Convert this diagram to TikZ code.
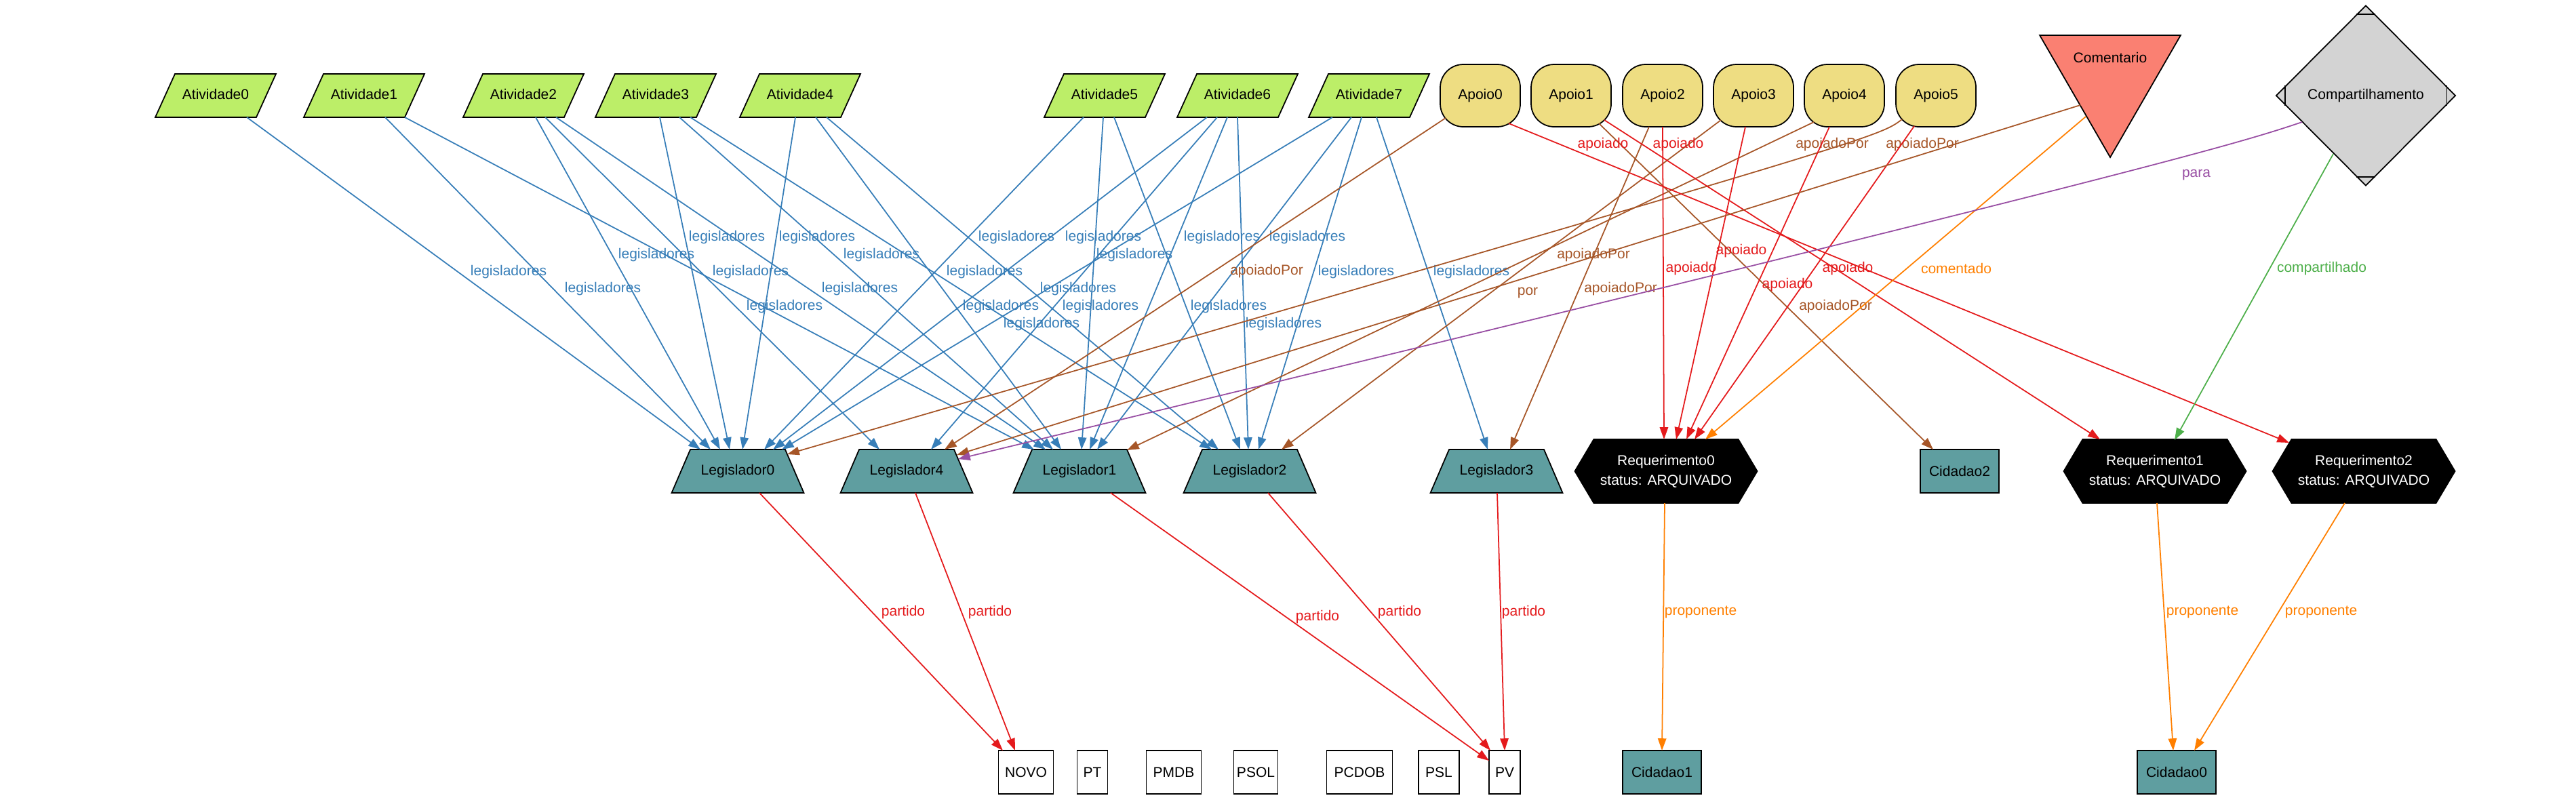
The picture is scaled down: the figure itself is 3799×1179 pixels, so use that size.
\documentclass[tikz,border=0pt]{standalone}
\usepackage{fontspec}
\setmainfont{Liberation Sans}
\usetikzlibrary{calc}
\usetikzlibrary{shapes.geometric}
\usetikzlibrary{shapes.symbols}
\usetikzlibrary{arrows.meta}
\definecolor{legc}{HTML}{377EB8}
\definecolor{redc}{HTML}{E41A1C}
\definecolor{brnc}{HTML}{A65628}
\definecolor{prpc}{HTML}{984EA3}
\definecolor{grnc}{HTML}{4DAF4A}
\definecolor{orgc}{HTML}{FF7F00}
\definecolor{atvfill}{HTML}{BCEE68}
\definecolor{apofill}{HTML}{EEDD82}
\definecolor{cadet}{HTML}{5F9EA0}
\definecolor{salmonfill}{HTML}{FA8072}
\definecolor{cmpfill}{HTML}{D3D3D3}
\newcommand*{\fsz}{\fontsize{5.98}{7}\selectfont}
\tikzset{
  nodebox/.style={draw=black, line width=0.5pt, inner sep=0pt, text=black},
  slanted/.style={nodebox, trapezium, trapezium stretches body, inner xsep=0pt, inner ysep=2.2mm, text height=1.5mm, text depth=0.5mm},
  atv/.style={slanted, trapezium left angle=65.6, trapezium right angle=114.4, fill=atvfill, minimum width=17.8mm},
  legnode/.style={slanted, trapezium angle=66.7, fill=cadet, minimum width=19.5mm},
  apo/.style={nodebox, rectangle, rounded corners=3.4mm, fill=apofill, minimum width=11.8mm, minimum height=9.2mm},
  req/.style={nodebox, signal, signal to=west and east, signal pointer angle=118.6, fill=black, text=white, align=center, minimum width=26.9mm, minimum height=9.4mm, font=\fontsize{5.98}{8.25}\selectfont},
  cid/.style={nodebox, rectangle, fill=cadet, minimum width=11.6mm, minimum height=6.4mm},
  party/.style={nodebox, rectangle, fill=white, minimum height=6.4mm},
  comnode/.style={nodebox, regular polygon, regular polygon sides=3, shape border rotate=180, fill=salmonfill, minimum size=24mm},
  cmpnode/.style={nodebox, diamond, fill=cmpfill, minimum width=26.5mm, minimum height=26.6mm},
  lbl/.style={inner sep=0pt},
  conn/.style={line width=0.5pt, -{Triangle[length=1.78mm, width=1.24mm]}},
  e-leg/.style={conn, color=legc},
  e-apoiado/.style={conn, color=redc},
  e-apoiadopor/.style={conn, color=brnc},
  e-para/.style={conn, color=prpc},
  e-comp/.style={conn, color=grnc},
  e-prop/.style={conn, color=orgc},
}

\begin{document}
\begin{tikzpicture}[x=0.1mm, y=-0.1mm, font=\fsz]
    \useasboundingbox (0,0) rectangle (3799,1179);
    % top row
    \node [atv] (a0) at ( 318,141) {Atividade0};
    \node [atv] (a1) at ( 537,141) {Atividade1};
    \node [atv] (a2) at ( 772,141) {Atividade2};
    \node [atv] (a3) at ( 967,141) {Atividade3};
    \node [atv] (a4) at (1180,141) {Atividade4};
    \node [atv] (a5) at (1629,141) {Atividade5};
    \node [atv] (a6) at (1825,141) {Atividade6};
    \node [atv] (a7) at (2019,141) {Atividade7};
    \node [apo] (p0) at (2183,141) {Apoio0};
    \node [apo] (p1) at (2317,141) {Apoio1};
    \node [apo] (p2) at (2452,141) {Apoio2};
    \node [apo] (p3) at (2586,141) {Apoio3};
    \node [apo] (p4) at (2720,141) {Apoio4};
    \node [apo] (p5) at (2855,141) {Apoio5};
    \node [comnode, label={[yshift=2.7mm]center:Comentario}] (com) at (3112,112) {};
    \node [cmpnode] (cmp) at (3489,141) {Compartilhamento};
    \draw [line width=0.5pt] ($(cmp.north)+(-14,14)$) -- ($(cmp.north)+(14,14)$);
    \draw [line width=0.5pt] ($(cmp.south)+(-14,-14)$) -- ($(cmp.south)+(14,-14)$);
    \draw [line width=0.5pt] ($(cmp.west)+(14,-15)$) -- ($(cmp.west)+(14,15)$);
    \draw [line width=0.5pt] ($(cmp.east)+(-14,-15)$) -- ($(cmp.east)+(-14,15)$);
    % middle row
    \node [legnode] (l0) at (1088,695) {Legislador0};
    \node [legnode] (l4) at (1337,695) {Legislador4};
    \node [legnode] (l1) at (1592,695) {Legislador1};
    \node [legnode] (l2) at (1843,695) {Legislador2};
    \node [legnode] (l3) at (2207,695) {Legislador3};
    \node [req] (r0) at (2457,695) {Requerimento0\\status: ARQUIVADO};
    \node [cid] (c2) at (2890,695) {Cidadao2};
    \node [req] (r1) at (3178,695) {Requerimento1\\status: ARQUIVADO};
    \node [req] (r2) at (3486,695) {Requerimento2\\status: ARQUIVADO};
    % bottom row
    \node [party, minimum width=8.1mm] (novo)  at (1513,1139) {NOVO};
    \node [party, minimum width=4.5mm] (pt)    at (1611,1139) {PT};
    \node [party, minimum width=8.1mm] (pmdb)  at (1731,1139) {PMDB};
    \node [party, minimum width=6.5mm] (psol)  at (1852,1139) {PSOL};
    \node [party, minimum width=9.7mm] (pcdob) at (2005,1139) {PCDOB};
    \node [party, minimum width=6.0mm] (psl)   at (2122,1139) {PSL};
    \node [party, minimum width=4.6mm] (pv)    at (2219,1139) {PV};
    \node [cid] (c1) at (2451,1139) {Cidadao1};
    \node [cid] (c0) at (3210,1139) {Cidadao0};
    % legisladores
    \draw [e-leg] ($(a0)+(46,32)$) -- ($(l0)+(-55,-32)$) node [lbl] at (750,401) {legisladores};
    \draw [e-leg] ($(a1)+(31,32)$) -- ($(l0)+(-40,-32)$) node [lbl] at (889,426) {legisladores};
    \draw [e-leg] ($(a1)+(60,32)$) -- ($(l1)+(-67,-32)$) node [lbl] at (1157,452) {legisladores};
    \draw [e-leg] ($(a2)+(18,32)$) -- ($(l0)+(-26,-32)$) node [lbl] at (968,376) {legisladores};
    \draw [e-leg] ($(a2)+(32,32)$) -- ($(l4)+(-40,-32)$) node [lbl] at (1107,401) {legisladores};
    \draw [e-leg] ($(a2)+(48,32)$) -- ($(l1)+(-50,-32)$) node [lbl] at (1268,426) {legisladores};
    \draw [e-leg] ($(a3)+(6,32)$) -- ($(l0)+(-12,-32)$) node [lbl] at (1072,350) {legisladores};
    \draw [e-leg] ($(a3)+(35,32)$) -- ($(l1)+(-39,-32)$) node [lbl] at (1300,376) {legisladores};
    \draw [e-leg] ($(a3)+(51,32)$) -- ($(l2)+(-56,-32)$) node [lbl] at (1452,401) {legisladores};
    \draw [e-leg] ($(a4)+(-7,32)$) -- ($(l0)+(7,-32)$) node [lbl] at (1205,350) {legisladores};
    \draw [e-leg] ($(a4)+(23,32)$) -- ($(l1)+(-27,-32)$) node [lbl] at (1476,452) {legisladores};
    \draw [e-leg] ($(a4)+(39,32)$) -- ($(l2)+(-46,-32)$) node [lbl] at (1590,426) {legisladores};
    \draw [e-leg] ($(a5)+(-31,32)$) -- ($(l0)+(39,-32)$) node [lbl] at (1499,350) {legisladores};
    \draw [e-leg] ($(a5)+(-2,32)$) -- ($(l1)+(3,-32)$) node [lbl] at (1673,376) {legisladores};
    \draw [e-leg] ($(a5)+(14,32)$) -- ($(l2)+(-14,-32)$) node [lbl] at (1812,452) {legisladores};
    \draw [e-leg] ($(a6)+(-45,32)$) -- ($(l0)+(52,-32)$) node [lbl] at (1627,350) {legisladores};
    \draw [e-leg] ($(a6)+(-30,32)$) -- ($(l4)+(36,-32)$) node [lbl] at (1623,452) {legisladores};
    \draw [e-leg] ($(a6)+(-15,32)$) -- ($(l1)+(15,-32)$) node [lbl] at (1802,350) {legisladores};
    \draw [e-leg] ($(a6)+(0,32)$) -- ($(l2)+(-2,-32)$) node [lbl] at (1893,478) {legisladores};
    \draw [e-leg] ($(a7)+(-54,32)$) -- ($(l0)+(65,-32)$) node [lbl] at (1536,478) {legisladores};
    \draw [e-leg] ($(a7)+(-26,32)$) -- ($(l1)+(26,-32)$) node [lbl] at (1928,350) {legisladores};
    \draw [e-leg] ($(a7)+(-11,32)$) -- ($(l2)+(13,-32)$) node [lbl] at (2000,401) {legisladores};
    \draw [e-leg] ($(a7)+(11,32)$) -- ($(l3)+(-13,-32)$) node [lbl] at (2170,401) {legisladores};
    % apoiadoPor
    \draw [e-apoiadopor] ($(p0)+(-51,33)$) -- ($(l4)+(56,-32)$) node [lbl] at (1868,400) {apoiadoPor};
    \draw [e-apoiadopor] ($(p1)+(41,41)$) -- ($(c2)+(-39,-32)$) node [lbl] at (2707,452) {apoiadoPor};
    \draw [e-apoiadopor] ($(p2)+(-20,46)$) -- ($(l3)+(20,-32)$) node [lbl] at (2390,426) {apoiadoPor};
    \draw [e-apoiadopor] ($(p3)+(-48,36)$) -- ($(l2)+(47,-32)$) node [lbl] at (2350,376) {apoiadoPor};
    \draw [e-apoiadopor] ($(p4)+(-45,39)$) -- ($(l1)+(70,-31)$) node [lbl] at (2702,213) {apoiadoPor};
    \draw [e-apoiadopor] ($(p5)+(-50,35)$) .. controls (2770,203) .. ($(l0)+(73,-25)$) node [lbl] at (2835,213) {apoiadoPor};
    % apoiado
    \draw [e-apoiado] ($(p0)+(42,41)$) -- ($(r2)+(-110,-42)$) node [lbl] at (2364,213) {apoiado};
    \draw [e-apoiado] ($(p1)+(49,36)$) -- ($(r1)+(-81,-47)$) node [lbl] at (2475,213) {apoiado};
    \draw [e-apoiado] ($(p2)+(0,46)$) -- ($(r0)+(-3,-47)$) node [lbl] at (2494,396) {apoiado};
    \draw [e-apoiado] ($(p3)+(-12,46)$) -- ($(r0)+(15,-47)$) node [lbl] at (2568,370) {apoiado};
    \draw [e-apoiado] ($(p4)+(-22,46)$) -- ($(r0)+(30,-47)$) node [lbl] at (2636,420) {apoiado};
    \draw [e-apoiado] ($(p5)+(-32,45)$) -- ($(r0)+(42,-47)$) node [lbl] at (2725,396) {apoiado};
    % comentario, compartilhamento
    \draw [e-prop] ($(com)+(-36,60)$) -- ($(r0)+(58,-47)$) node [lbl] at (2885,396) {comentado};
    \draw [e-apoiadopor] ($(com)+(-44,43)$) -- ($(l4)+(74,-24)$) node [lbl] at (2253,432) {por};
    \draw [e-para] ($(cmp)+(-94,39)$) .. controls (3300,212) and (3180,250) .. ($(l4)+(76,-18)$) node [lbl] at (3239,258) {para};
    \draw [e-comp] ($(cmp)+(-48,86)$) -- ($(r1)+(29,-46)$) node [lbl] at (3424,396) {compartilhado};
    % proponente
    \draw [e-prop] ($(r0)+(-2,47)$) -- ($(c1)+(0,-32)$) node [lbl] at (2508,903) {proponente};
    \draw [e-prop] ($(r1)+(3,47)$) -- ($(c0)+(-5,-32)$) node [lbl] at (3248,903) {proponente};
    \draw [e-prop] ($(r2)+(-28,47)$) -- ($(c0)+(26,-32)$) node [lbl] at (3423,903) {proponente};
    % partido
    \draw [e-apoiado] ($(l0)+(32,32)$) -- ($(novo)+(-34,-32)$) node [lbl] at (1332,903) {partido};
    \draw [e-apoiado] ($(l4)+(13,32)$) -- ($(novo)+(-16,-32)$) node [lbl] at (1460,903) {partido};
    \draw [e-apoiado] ($(l1)+(46,32)$) -- ($(pv)+(-23,-17)$) node [lbl] at (1943,910) {partido};
    \draw [e-apoiado] ($(l2)+(27,32)$) -- ($(pv)+(-21,-32)$) node [lbl] at (2064,903) {partido};
    \draw [e-apoiado] ($(l3)+(1,32)$) -- ($(pv)+(0,-32)$) node [lbl] at (2247,903) {partido};
\end{tikzpicture}
\end{document}
